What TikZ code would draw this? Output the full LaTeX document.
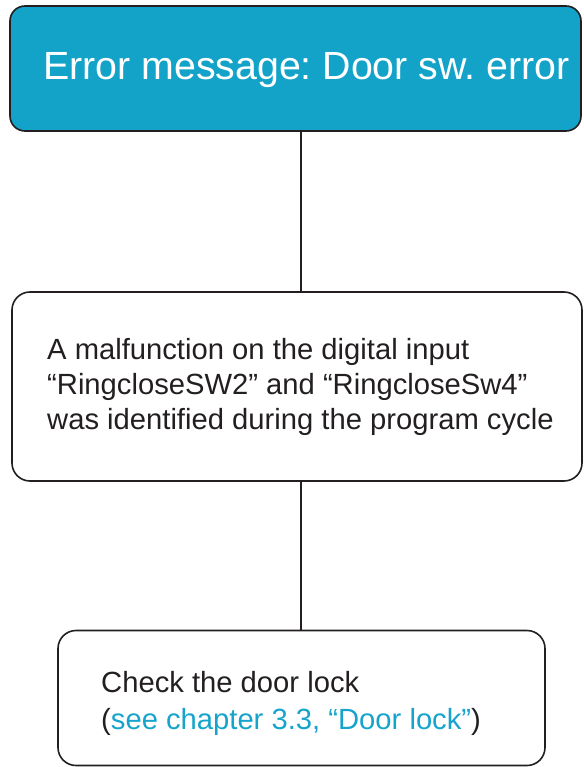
\documentclass[tikz,border=0pt]{standalone}
\usepackage{fontspec}
\setmainfont{Liberation Sans}
\frenchspacing
\definecolor{boxblue}{HTML}{13A3C9}
\definecolor{linkblue}{HTML}{17A4CC}
\definecolor{ink}{HTML}{231F20}
\tikzset{
  box/.style={draw=ink, line width=1.6pt, rounded corners=18pt, inner sep=0pt},
  headbox/.style={box, fill=boxblue, rounded corners=15pt},
  conn/.style={draw=ink, line width=1.6pt},
  txt/.style={anchor=base west, inner sep=0pt, text=ink, font=\fontsize{29.2}{35}\selectfont\frenchspacing, align=left},
}
\begin{document}
\begin{tikzpicture}[x=1pt,y=-1pt]
\useasboundingbox (0,0) rectangle (583,767);
\node[headbox, minimum width=571pt, minimum height=125pt] (top) at (295.5,68.5) {};
\node[anchor=base west, inner sep=0pt, text=white, font=\fontsize{39.3}{47}\selectfont\frenchspacing] (toptxt) at (43,80) {Error message: Door sw. error};
\node[box, minimum width=570pt, minimum height=189pt] (mid) at (297,386.5) {};
\node[txt] (midtxt) at (47,429) {A malfunction on the digital input\\“RingcloseSW2” and “RingcloseSw4”\\was identified during the program cycle};
\node[box, minimum width=487pt, minimum height=135pt] (bot) at (301.5,698) {};
\node[txt, font=\fontsize{29.2}{37}\selectfont\frenchspacing] (bottxt) at (101,729) {Check the door lock\\(\textcolor{linkblue}{see chapter 3.3, “Door lock”})};
\coordinate (cx) at (301,0);
\draw[conn] (top.south -| cx) -- (mid.north -| cx);
\draw[conn] (mid.south -| cx) -- (bot.north -| cx);
\end{tikzpicture}
\end{document}
